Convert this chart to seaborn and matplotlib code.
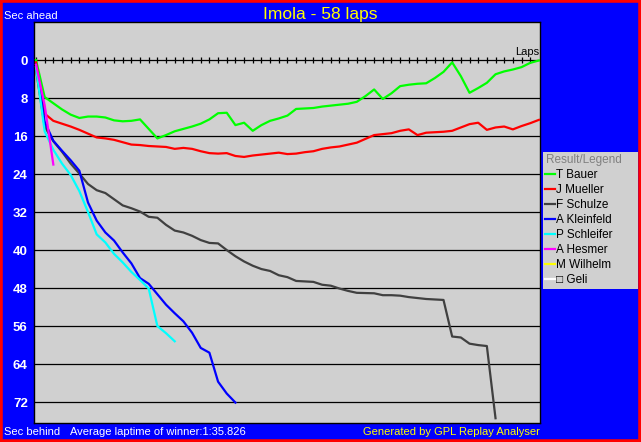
import matplotlib
matplotlib.use("Agg")
from matplotlib import pyplot as plt
from matplotlib.lines import Line2D
from matplotlib.patches import Rectangle
import pandas as pd
import seaborn as sns

# gap to the leader (seconds) per lap, lap 0 first
t_bauer = [0.0, 7.8, 9.1, 10.4, 11.5, 12.2, 11.9, 11.9, 12.1, 12.7, 12.9, 12.8, 12.5, 14.5, 16.5,
           15.8, 15.0, 14.5, 14.0, 13.4, 12.5, 11.2, 11.1, 13.7, 13.2, 14.9, 13.7, 12.8, 12.3, 11.7,
           10.3, 10.2, 10.1, 9.8, 9.6, 9.4, 9.2, 8.8, 7.6, 6.2, 8.2, 7.0, 5.5, 5.2, 5.0,
           4.9, 3.8, 2.5, 0.5, 3.4, 6.9, 5.9, 4.8, 3.0, 2.4, 2.0, 1.5, 0.6, 0.1]
j_mueller = [0.5, 11.3, 12.8, 13.4, 14.0, 14.7, 15.5, 16.3, 16.5, 16.8, 17.3, 17.8, 17.9, 18.1, 18.2,
             18.3, 18.7, 18.5, 18.7, 19.2, 19.6, 19.7, 19.6, 20.2, 20.4, 20.1, 19.9, 19.7, 19.5, 19.8,
             19.7, 19.4, 19.2, 18.7, 18.4, 18.2, 17.8, 17.4, 16.6, 15.8, 15.6, 15.4, 14.9, 14.6, 15.8,
             15.3, 15.2, 15.1, 14.9, 14.2, 13.5, 13.2, 14.7, 14.2, 14.0, 14.6, 13.9, 13.3, 12.6]
f_schulze = [2.0, 14.0, 17.1, 19.3, 21.8, 23.9, 26.1, 27.4, 28.0, 29.3, 30.6, 31.2, 31.9, 33.0, 33.2,
             34.7, 35.9, 36.3, 37.0, 37.9, 38.5, 38.6, 40.0, 41.3, 42.4, 43.3, 44.0, 44.4, 45.3, 45.7,
             46.5, 46.6, 46.7, 47.3, 47.5, 48.1, 48.6, 49.0, 49.05, 49.1, 49.5, 49.5, 49.6, 49.9, 50.1,
             50.3, 50.4, 50.5, 58.2, 58.4, 59.7, 60.0, 60.2, 75.4]
a_kleinfeld = [1.0, 13.0, 17.0, 19.1, 21.1, 23.3, 30.0, 33.8, 36.3, 38.0, 40.5, 42.8, 45.9, 47.1, 49.3,
               51.5, 53.3, 55.0, 57.4, 60.6, 61.6, 67.7, 70.2, 72.1]
p_schleifer = [1.5, 15.0, 18.9, 21.8, 24.2, 27.6, 32.0, 36.7, 38.4, 40.8, 42.6, 44.6, 46.3, 48.1, 56.0,
               57.5, 59.2]
a_hesmer = [1.0, 9.5, 22.0]
m_wilhelm = []
geli = []

drivers = ["T Bauer", "J Mueller", "F Schulze", "A Kleinfeld", "P Schleifer", "A Hesmer", "M Wilhelm", "Geli"]
legend_labels = ["T Bauer", "J Mueller", "F Schulze", "A Kleinfeld", "P Schleifer", "A Hesmer", "M Wilhelm", "\u25a1 Geli"]
colors = ["#00ff00", "#ff0000", "#404040", "#0000ff", "#00ffff", "#ff00ff", "#ffff00", "#ffffff"]
series = [t_bauer, j_mueller, f_schulze, a_kleinfeld, p_schleifer, a_hesmer, m_wilhelm, geli]

y_ticks = [0, 8, 16, 24, 32, 40, 48, 56, 64, 72]
laps_total = 58

rows = []
for name, vals in zip(drivers, series):
    for lap, v in enumerate(vals):
        rows.append({"driver": name, "lap": lap, "sec": v})
df = pd.DataFrame(rows)

W, H = 641, 442
fig = plt.figure(figsize=(W / 100, H / 100), dpi=100, facecolor="#0000ff")
ax = fig.add_axes([34 / W, 19 / H, 506 / W, 401 / H])
ax.set_facecolor("#d0d0d0")
plt.rcParams["font.family"] = ["Liberation Sans", "DejaVu Sans"]

# grid lines and the lap scale on the zero line
for yt in y_ticks[1:]:
    ax.axhline(yt, color="black", lw=0.9, zorder=1)
ax.axhline(0, color="black", lw=0.9, zorder=1)
ax.plot(range(laps_total), [0] * laps_total, ls="none", marker="|", ms=4, mew=0.9, color="black", zorder=1)

present = [d for d, s in zip(drivers, series) if len(s)]
palette = {d: c for d, c in zip(drivers, colors)}
sns.lineplot(data=df, x="lap", y="sec", hue="driver", hue_order=present, palette=palette,
             estimator=None, sort=False, linewidth=1.6, legend=False, ax=ax, zorder=3)

ax.set_xlim(-0.23, 58.13)
ax.set_ylim(76.4, -8.0)
ax.set_xticks([])
ax.set_yticks(y_ticks)
ax.set_yticklabels([str(v) for v in y_ticks], color="white", fontweight="bold", fontsize=9.5,
                   family=["Liberation Sans", "DejaVu Sans"])
ax.tick_params(axis="y", length=0, pad=4.5)
ax.set_xlabel(None)
ax.set_ylabel(None)
for sp in ax.spines.values():
    sp.set_color("black")
    sp.set_linewidth(1.0)

ax.text(58.1, -0.7, "Laps", ha="right", va="bottom", fontsize=8, color="black")

# texts around the chart
fig.text(320 / W, 1 - 19 / H, "Imola - 58 laps", ha="center", va="baseline", fontsize=12.5, color="#ffff00")
fig.text(4 / W, 1 - 19 / H, "Sec ahead", ha="left", va="baseline", fontsize=8, color="white")
fig.text(4 / W, 1 - 435 / H, "Sec behind", ha="left", va="baseline", fontsize=8, color="white")
fig.text(70 / W, 1 - 435 / H, "Average laptime of winner:1:35.826", ha="left", va="baseline", fontsize=8, color="white")
fig.text(540 / W, 1 - 435 / H, "Generated by GPL Replay Analyser", ha="right", va="baseline", fontsize=8, color="#ffff00")

# legend panel
fig.patches.append(Rectangle((543 / W, 1 - 289 / H), 95 / W, 137 / H, transform=fig.transFigure,
                             facecolor="#d0d0d0", edgecolor="none", zorder=2))
fig.text(546 / W, 1 - 163 / H, "Result/Legend", ha="left", va="baseline", fontsize=8.5, color="#808080", zorder=3)
for i, (lab, col) in enumerate(zip(legend_labels, colors)):
    yb = 178.3 + 15 * i
    fig.add_artist(Line2D([545 / W, 555 / W], [1 - (yb - 4.3) / H] * 2, transform=fig.transFigure,
                          color=col, lw=1.6, zorder=3))
    fig.text(556 / W, 1 - yb / H, lab, ha="left", va="baseline", fontsize=8.5, color="black", zorder=3)

# red outer frame
fig.patches.append(Rectangle((0, 0), 1, 1, transform=fig.transFigure, fill=False,
                             edgecolor="#ff0000", lw=4, zorder=10))

fig.savefig("out.png", dpi=100, facecolor=fig.get_facecolor())
